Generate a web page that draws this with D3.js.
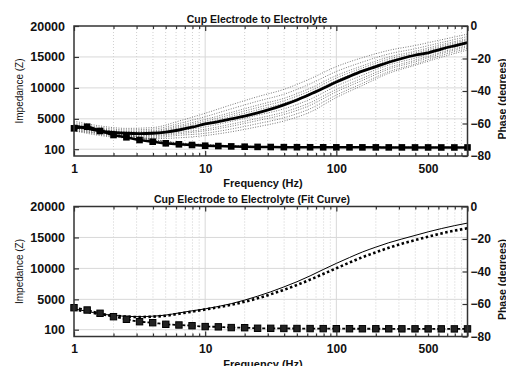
<!DOCTYPE html>
<html><head><meta charset="utf-8">
<script src="https://cdn.jsdelivr.net/npm/d3@7/dist/d3.min.js"></script>
<style>
body{margin:0;background:#fff;}
svg{display:block;font-family:"Liberation Sans",Arial,sans-serif;}
</style></head><body>
<svg id="c" width="506" height="366"></svg>
<script>
// ---------- DATA ----------
const freq = [1,1.26,1.58,2,2.51,3.16,3.98,5.01,6.31,7.94,10,12.6,15.8,20,25.1,31.6,39.8,50.1,63.1,79.4,100,126,158,200,251,316,398,501,631,794,1000];
const freqS = [1,1.58,2.51,3.98,6.31,10,15.8,25.1,39.8,63.1,100,158,251,398,631,1000];

// Top panel
const topImpedance = [3470,3730,3040,2390,2020,1580,1310,1050,890,780,660,610,550,500,470,450,430,420,410,405,400,400,395,395,390,390,385,385,380,380,380];
const topPhaseMean = [-61.5,-63,-64.5,-65.5,-66,-66.2,-66,-65.3,-64,-62.3,-60.3,-58.8,-57.2,-55.5,-53.5,-51.2,-48.5,-45.5,-42,-38.3,-34.5,-31,-27.8,-25,-22.3,-20,-18,-16.5,-14.2,-12.2,-10.3];
const phaseSample1 = [-58.5,-61.5,-63,-62.5,-58.5,-53.7,-48.5,-43.5,-39,-32.5,-25,-19.5,-15,-12,-8.5,-5];
const phaseSample2 = [-59.4,-62.4,-63.9,-63.5,-60,-55.8,-51,-46.3,-42,-35.6,-28,-22.2,-17.2,-14,-10.2,-6.5];
const phaseSample3 = [-60.2,-63.2,-64.7,-64.4,-61.2,-57.5,-53.2,-48.7,-44.5,-38.3,-30.5,-24.5,-19.1,-15.6,-11.5,-7.8];
const phaseSample4 = [-60.6,-63.6,-65.1,-65,-62,-58.6,-54.5,-50.2,-46,-39.9,-32,-25.8,-20.3,-16.6,-12.4,-8.5];
const phaseSample5 = [-61,-64,-65.5,-65.5,-62.8,-59.6,-55.7,-51.6,-47.5,-41.4,-33.5,-27.2,-21.4,-17.5,-13.2,-9.3];
const phaseSample6 = [-62.1,-65.1,-66.6,-66.7,-64.5,-62.1,-58.7,-54.9,-51,-45.1,-37,-30.3,-24,-19.8,-15.1,-11];
const phaseSample7 = [-62.7,-65.7,-67.2,-67.4,-65.5,-63.5,-60.4,-56.8,-53,-47.2,-39,-32.1,-25.5,-21.1,-16.2,-12];
const phaseSample8 = [-63.2,-66.2,-67.7,-67.9,-66.3,-64.5,-61.7,-58.2,-54.5,-48.8,-40.5,-33.5,-26.6,-22.1,-17,-12.8];
const phaseSample9 = [-63.8,-66.8,-68.3,-68.6,-67.3,-66,-63.4,-60.1,-56.5,-50.9,-42.5,-35.3,-28.1,-23.4,-18.1,-13.8];
const phaseSample10 = [-64.4,-67.4,-68.9,-69.3,-68.8,-67.4,-65.1,-62,-58.5,-53,-44,-36.6,-29.1,-24.2,-19.2,-14.8];
const impSample1 = [3000,2700,2250,1550,1050,780,620,520,470,440,420,410,400,395,390,385];
const impSample2 = [3900,3300,2500,1700,1150,860,670,540,480,450,430,415,400,395,390,385];
const impSample3 = [3300,3000,2300,1600,1100,820,640,530,470,440,420,410,400,390,385,380];
const impSample4 = [3600,3150,2400,1650,1080,800,630,520,470,440,420,410,400,395,390,380];

// Bottom panel
const botImpedance = [3650,3280,2750,2200,1780,1390,1230,970,860,740,600,560,440,420,330,320,300,290,280,270,260,255,250,250,245,240,240,235,235,230,230];
const botPhaseMeasured = [-63,-64.5,-66,-67,-67.6,-67.8,-67.5,-66.8,-65.5,-64.2,-63,-61.5,-59.8,-57.6,-55.2,-52.5,-49.5,-46.3,-42.7,-38.8,-35,-31.4,-28,-25,-22.3,-20,-17.8,-15.6,-13.6,-11.8,-10.2];
const botPhaseFit = [-63.3,-64.8,-66.2,-67.2,-67.8,-68,-67.8,-67.2,-66,-64.7,-63.4,-62,-60.5,-58.6,-56.5,-54,-51.3,-48.3,-45,-41.5,-38,-34.5,-31.2,-28.2,-25.4,-22.9,-20.7,-18.6,-16.6,-14.9,-13.4];

// Axes
const xTickLabels = [1,10,100,500];
const xMajorTicks = [1,10,100,1000];
const xMinorTicks = [2,3,4,5,6,7,8,9,20,30,40,50,60,70,80,90,200,300,400,500,600,700,800,900];
const xMajorGrid = [10,100];
const leftTicks = [100,5000,10000,15000,20000];
const rightTicks = [0,-20,-40,-60,-80];
const titles = ["Cup Electrode to Electrolyte","Cup Electrode to Electrolyte (Fit Curve)"];

// ---------- DRAW ----------
const svg = d3.select("#c");
const X0 = 74, X1 = 467.5;
const x = d3.scaleLog().domain([1,1000]).range([X0,X1]);
const GRID = "#d8d8d8";
const FRAME = "#333";

function panel(y0, y1, title, titleX, drawData){
  const g = svg.append("g");
  const yL = d3.scaleLinear().domain([-1000,20000]).range([y1,y0]);
  const yR = d3.scaleLinear().domain([-80,0]).range([y1,y0]);
  // grid
  g.append("g").selectAll("line").data(xMinorTicks).join("line")
    .attr("x1",d=>x(d)).attr("x2",d=>x(d)).attr("y1",y0).attr("y2",y1)
    .attr("stroke","#c4c4c4").attr("stroke-width",0.8).attr("stroke-dasharray","1,2");
  g.append("g").selectAll("line").data(xMajorGrid).join("line")
    .attr("x1",d=>x(d)).attr("x2",d=>x(d)).attr("y1",y0).attr("y2",y1)
    .attr("stroke",GRID).attr("stroke-width",1);
  g.append("g").selectAll("line").data(leftTicks.slice(0,4)).join("line")
    .attr("x1",X0).attr("x2",X1).attr("y1",d=>yL(d)).attr("y2",d=>yL(d))
    .attr("stroke",GRID).attr("stroke-width",1);

  drawData(g, yL, yR);

  // frame
  g.append("rect").attr("x",X0).attr("y",y0).attr("width",X1-X0).attr("height",y1-y0)
    .attr("fill","none").attr("stroke",FRAME).attr("stroke-width",1.5);

  const font = (sel)=>sel.selectAll("text").attr("font-size","12px").attr("font-weight","bold").attr("fill","#111");
  const clean = (sel)=>{sel.select(".domain").remove(); sel.selectAll("line").attr("stroke",FRAME).attr("stroke-width",1.2);};

  // bottom axis labels + ticks
  const bl = g.append("g").attr("transform",`translate(0,${y1})`)
    .call(d3.axisBottom(x).tickValues(xTickLabels).tickFormat(d3.format("d")).tickSize(0).tickPadding(8));
  bl.select(".domain").remove(); font(bl);
  g.append("g").attr("transform",`translate(0,${y1})`).call(d3.axisBottom(x).tickValues(xMajorTicks).tickFormat("").tickSize(-5)).call(clean);
  g.append("g").attr("transform",`translate(0,${y1})`).call(d3.axisBottom(x).tickValues(xMinorTicks).tickFormat("").tickSize(-3)).call(clean);
  g.append("g").attr("transform",`translate(0,${y0})`).call(d3.axisTop(x).tickValues(xMajorTicks).tickFormat("").tickSize(-5)).call(clean);
  g.append("g").attr("transform",`translate(0,${y0})`).call(d3.axisTop(x).tickValues(xMinorTicks).tickFormat("").tickSize(-3)).call(clean);

  // left
  const la = g.append("g").attr("transform",`translate(${X0},0)`)
    .call(d3.axisLeft(yL).tickValues(leftTicks).tickFormat(d3.format("d")).tickSize(-5));
  clean(la); font(la);
  la.selectAll("text").attr("x",-9).attr("font-size","12.5px");
  // right
  const ra = g.append("g").attr("transform",`translate(${X1},0)`)
    .call(d3.axisRight(yR).tickValues(rightTicks).tickFormat(d3.format("d")).tickSize(-5));
  clean(ra); font(ra);
  ra.selectAll("text").attr("x",3);

  // titles
  g.append("text").attr("x",titleX).attr("y",y0-3.5).attr("text-anchor","middle")
    .attr("font-size","10.5px").attr("font-weight","bold").attr("fill","#111").text(title);
  g.append("text").attr("x",263).attr("y",y1+31).attr("text-anchor","middle")
    .attr("font-size","11px").attr("font-weight","bold").attr("fill","#111").text("Frequency (Hz)");
  g.append("text").attr("transform",`translate(22.5,${(y0+y1)/2}) rotate(-90)`).attr("text-anchor","middle")
    .attr("font-size","10px").attr("fill","#111").text("Impedance (Z)");
  g.append("text").attr("transform",`translate(505.5,${(y0+y1)/2+8}) rotate(-90)`).attr("text-anchor","middle")
    .attr("font-size","10.5px").attr("font-weight","bold").attr("fill","#111").text("Phase (degrees)");
}

function lineOf(fs, scale){
  return d3.line().x((d,i)=>x(fs[i])).y(d=>scale(d)).curve(d3.curveMonotoneX);
}

// top panel
panel(26, 156, titles[0], 257, (g, yL, yR)=>{
  const samples = [phaseSample1,phaseSample2,phaseSample3,phaseSample4,phaseSample5,phaseSample6,phaseSample7,phaseSample8,phaseSample9,phaseSample10];
  g.append("g").selectAll("path").data(samples).join("path")
    .attr("d",d=>lineOf(freqS,yR)(d)).attr("fill","none").attr("stroke","#555")
    .attr("stroke-width",0.8).attr("stroke-dasharray","1,1.5");
  g.append("g").selectAll("path").data([impSample1,impSample2,impSample3,impSample4]).join("path")
    .attr("d",d=>lineOf(freqS,yL)(d)).attr("fill","none").attr("stroke","#555")
    .attr("stroke-width",0.8).attr("stroke-dasharray","1,1.5");
  g.append("path").attr("d",lineOf(freq,yR)(topPhaseMean)).attr("fill","none").attr("stroke","#000").attr("stroke-width",2.8);
  g.append("path").attr("d",lineOf(freq,yL)(topImpedance)).attr("fill","none").attr("stroke","#000").attr("stroke-width",2.5);
  g.append("g").selectAll("rect").data(topImpedance).join("rect")
    .attr("x",(d,i)=>x(freq[i])-3.3).attr("y",d=>yL(d)-3.3).attr("width",6.6).attr("height",6.6).attr("fill","#000");
});

// bottom panel
panel(206.5, 336.5, titles[1], 252, (g, yL, yR)=>{
  g.append("path").attr("d",lineOf(freq,yR)(botPhaseMeasured)).attr("fill","none").attr("stroke","#000").attr("stroke-width",1);
  g.append("path").attr("d",lineOf(freq,yR)(botPhaseFit)).attr("fill","none").attr("stroke","#000").attr("stroke-width",2.6).attr("stroke-dasharray","2.5,2.5");
  g.append("path").attr("d",lineOf(freq,yL)(botImpedance)).attr("fill","none").attr("stroke","#000").attr("stroke-width",1.8).attr("stroke-dasharray","3,2");
  g.append("g").selectAll("rect").data(botImpedance).join("rect")
    .attr("x",(d,i)=>x(freq[i])-3.2).attr("y",d=>yL(d)-3.2).attr("width",6.4).attr("height",6.4)
    .attr("fill","#222").attr("stroke","#000").attr("stroke-width",1);
});
</script>
</body></html>
